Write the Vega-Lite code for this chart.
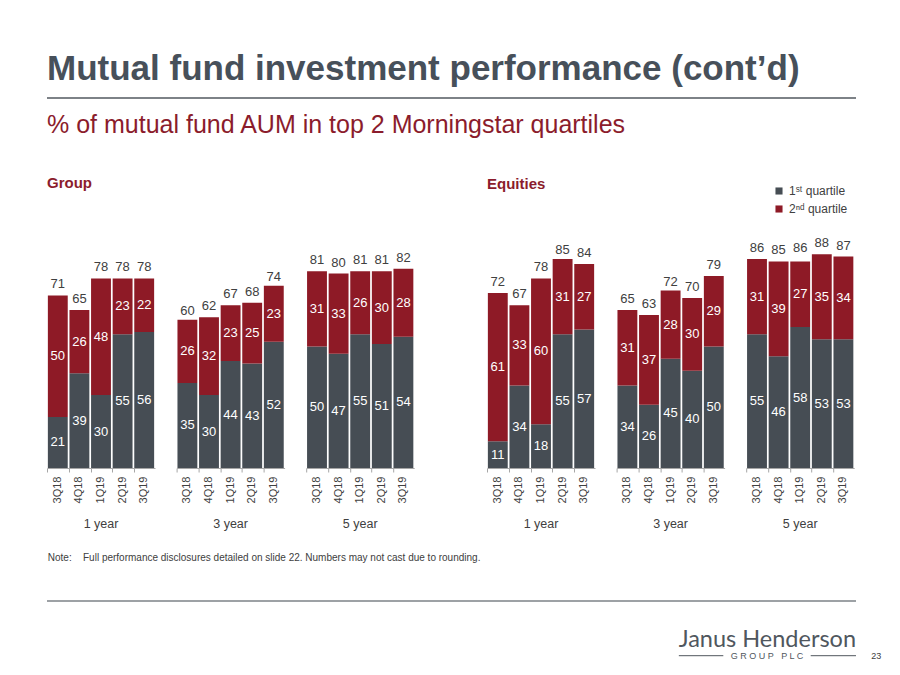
{
  "$schema": "https://vega.github.io/schema/vega-lite/v6.json",
  "background": "white",
  "padding": {"left": 46, "top": 52, "right": 0, "bottom": 0},
  "config": {
    "font": "Liberation Sans",
    "view": {"stroke": null},
    "concat": {"spacing": 0}
  },
  "title": {
    "text": "Mutual fund investment performance (cont’d)",
    "anchor": "start",
    "frame": "group",
    "fontSize": 35,
    "fontWeight": "bold",
    "color": "#47505a",
    "offset": 10
  },
  "datasets": {
    "perf": [
      {"panel": "Group", "period": "1 year", "quarter": "3Q18", "q1": 21, "q2": 50, "total": 71},
      {"panel": "Group", "period": "1 year", "quarter": "4Q18", "q1": 39, "q2": 26, "total": 65},
      {"panel": "Group", "period": "1 year", "quarter": "1Q19", "q1": 30, "q2": 48, "total": 78},
      {"panel": "Group", "period": "1 year", "quarter": "2Q19", "q1": 55, "q2": 23, "total": 78},
      {"panel": "Group", "period": "1 year", "quarter": "3Q19", "q1": 56, "q2": 22, "total": 78},
      {"panel": "Group", "period": "3 year", "quarter": "3Q18", "q1": 35, "q2": 26, "total": 60},
      {"panel": "Group", "period": "3 year", "quarter": "4Q18", "q1": 30, "q2": 32, "total": 62},
      {"panel": "Group", "period": "3 year", "quarter": "1Q19", "q1": 44, "q2": 23, "total": 67},
      {"panel": "Group", "period": "3 year", "quarter": "2Q19", "q1": 43, "q2": 25, "total": 68},
      {"panel": "Group", "period": "3 year", "quarter": "3Q19", "q1": 52, "q2": 23, "total": 74},
      {"panel": "Group", "period": "5 year", "quarter": "3Q18", "q1": 50, "q2": 31, "total": 81},
      {"panel": "Group", "period": "5 year", "quarter": "4Q18", "q1": 47, "q2": 33, "total": 80},
      {"panel": "Group", "period": "5 year", "quarter": "1Q19", "q1": 55, "q2": 26, "total": 81},
      {"panel": "Group", "period": "5 year", "quarter": "2Q19", "q1": 51, "q2": 30, "total": 81},
      {"panel": "Group", "period": "5 year", "quarter": "3Q19", "q1": 54, "q2": 28, "total": 82},
      {"panel": "Equities", "period": "1 year", "quarter": "3Q18", "q1": 11, "q2": 61, "total": 72},
      {"panel": "Equities", "period": "1 year", "quarter": "4Q18", "q1": 34, "q2": 33, "total": 67},
      {"panel": "Equities", "period": "1 year", "quarter": "1Q19", "q1": 18, "q2": 60, "total": 78},
      {"panel": "Equities", "period": "1 year", "quarter": "2Q19", "q1": 55, "q2": 31, "total": 85},
      {"panel": "Equities", "period": "1 year", "quarter": "3Q19", "q1": 57, "q2": 27, "total": 84},
      {"panel": "Equities", "period": "3 year", "quarter": "3Q18", "q1": 34, "q2": 31, "total": 65},
      {"panel": "Equities", "period": "3 year", "quarter": "4Q18", "q1": 26, "q2": 37, "total": 63},
      {"panel": "Equities", "period": "3 year", "quarter": "1Q19", "q1": 45, "q2": 28, "total": 72},
      {"panel": "Equities", "period": "3 year", "quarter": "2Q19", "q1": 40, "q2": 30, "total": 70},
      {"panel": "Equities", "period": "3 year", "quarter": "3Q19", "q1": 50, "q2": 29, "total": 79},
      {"panel": "Equities", "period": "5 year", "quarter": "3Q18", "q1": 55, "q2": 31, "total": 86},
      {"panel": "Equities", "period": "5 year", "quarter": "4Q18", "q1": 46, "q2": 39, "total": 85},
      {"panel": "Equities", "period": "5 year", "quarter": "1Q19", "q1": 58, "q2": 27, "total": 86},
      {"panel": "Equities", "period": "5 year", "quarter": "2Q19", "q1": 53, "q2": 35, "total": 88},
      {"panel": "Equities", "period": "5 year", "quarter": "3Q19", "q1": 53, "q2": 34, "total": 87}
    ]
  },
  "vconcat": [
    {
      "width": 809,
      "height": 15,
      "data": {"values": [{}]},
      "mark": {"type": "rule", "color": "#7d8287", "strokeWidth": 2},
      "encoding": {"y": {"datum": 1, "scale": {"domain": [0, 1]}, "axis": null}}
    },
    {
      "title": {
        "text": "% of mutual fund AUM in top 2 Morningstar quartiles",
        "anchor": "start",
        "frame": "group",
        "fontSize": 25,
        "fontWeight": "normal",
        "color": "#8b1c2c",
        "offset": 38
      },
      "spacing": 71,
      "resolve": {"scale": {"color": "independent"}},
      "hconcat": [
        {
          "title": {"text": "Group", "anchor": "start", "frame": "group", "fontSize": 15, "fontWeight": "bold", "color": "#8b1c2c", "offset": 34},
          "data": {"name": "perf"},
          "transform": [
            {"filter": "datum.panel === 'Group'"},
            {"fold": ["q1", "q2"], "as": ["quartile", "value"]}
          ],
          "facet": {
            "column": {
              "field": "period", "type": "nominal",
              "header": {"title": null, "labelOrient": "bottom", "labelFontSize": 12.5, "labelColor": "#404040", "labelPadding": 15}
            }
          },
          "spacing": 21.6,
          "spec": {
            "width": 108,
            "height": 243,
            "encoding": {
              "x": {
                "field": "quarter", "type": "nominal",
                "sort": ["3Q18", "4Q18", "1Q19", "2Q19", "3Q19"],
                "scale": {"paddingInner": 0.08, "paddingOuter": 0.04},
                "axis": {"title": null, "labelAngle": -90, "labelFontSize": 11, "labelColor": "#404040", "domainColor": "#a6a6a6", "tickColor": "#a6a6a6", "tickSize": 4, "bandPosition": 0, "labelPadding": 4}
              }
            },
            "layer": [
              {
                "mark": {"type": "bar"},
                "encoding": {
                  "y": {"field": "value", "type": "quantitative", "stack": "zero", "scale": {"domain": [0, 100]}, "axis": null},
                  "order": {"field": "quartile", "sort": "ascending"},
                  "color": {"field": "quartile", "type": "nominal", "scale": {"domain": ["q1", "q2"], "range": ["#464d54", "#8e1a26"]}, "legend": null}
                }
              },
              {
                "mark": {"type": "text", "color": "white", "fontSize": 13, "baseline": "middle"},
                "encoding": {
                  "y": {"field": "value", "type": "quantitative", "stack": "zero", "bandPosition": 0.5},
                  "order": {"field": "quartile", "sort": "ascending"},
                  "detail": {"field": "quartile"},
                  "text": {"field": "value", "type": "quantitative"}
                }
              },
              {
                "transform": [{"filter": "datum.quartile === 'q2'"}],
                "mark": {"type": "text", "color": "#404040", "fontSize": 13, "baseline": "alphabetic", "dy": -7},
                "encoding": {
                  "y": {"field": "total", "type": "quantitative"},
                  "text": {"field": "total", "type": "quantitative"}
                }
              }
            ]
          }
        },
        {
          "title": {"text": "Equities", "anchor": "start", "frame": "group", "fontSize": 15, "fontWeight": "bold", "color": "#8b1c2c", "offset": -7},
          "data": {"name": "perf"},
          "transform": [
            {"filter": "datum.panel === 'Equities'"},
            {"fold": ["q1", "q2"], "as": ["quartile", "value"]}
          ],
          "facet": {
            "column": {
              "field": "period", "type": "nominal",
              "header": {"title": null, "labelOrient": "bottom", "labelFontSize": 12.5, "labelColor": "#404040", "labelPadding": 15}
            }
          },
          "spacing": 21.6,
          "spec": {
            "width": 108,
            "height": 243,
            "encoding": {
              "x": {
                "field": "quarter", "type": "nominal",
                "sort": ["3Q18", "4Q18", "1Q19", "2Q19", "3Q19"],
                "scale": {"paddingInner": 0.08, "paddingOuter": 0.04},
                "axis": {"title": null, "labelAngle": -90, "labelFontSize": 11, "labelColor": "#404040", "domainColor": "#a6a6a6", "tickColor": "#a6a6a6", "tickSize": 4, "bandPosition": 0, "labelPadding": 4}
              }
            },
            "layer": [
              {
                "mark": {"type": "bar"},
                "encoding": {
                  "y": {"field": "value", "type": "quantitative", "stack": "zero", "scale": {"domain": [0, 100]}, "axis": null},
                  "order": {"field": "quartile", "sort": "ascending"},
                  "color": {
                    "field": "quartile", "type": "nominal",
                    "scale": {"domain": ["q1", "q2"], "range": ["#464d54", "#8e1a26"]},
                    "legend": {
                      "orient": "none", "legendX": 286, "legendY": -40, "title": null,
                      "symbolType": "square", "symbolSize": 50, "symbolStrokeWidth": 0,
                      "labelFontSize": 12, "labelColor": "#404040", "rowPadding": 6,
                      "labelExpr": "datum.value === 'q1' ? '1ˢᵗ quartile' : '2ⁿᵈ quartile'"
                    }
                  }
                }
              },
              {
                "mark": {"type": "text", "color": "white", "fontSize": 13, "baseline": "middle"},
                "encoding": {
                  "y": {"field": "value", "type": "quantitative", "stack": "zero", "bandPosition": 0.5},
                  "order": {"field": "quartile", "sort": "ascending"},
                  "detail": {"field": "quartile"},
                  "text": {"field": "value", "type": "quantitative"}
                }
              },
              {
                "transform": [{"filter": "datum.quartile === 'q2'"}],
                "mark": {"type": "text", "color": "#404040", "fontSize": 13, "baseline": "alphabetic", "dy": -7},
                "encoding": {
                  "y": {"field": "total", "type": "quantitative"},
                  "text": {"field": "total", "type": "quantitative"}
                }
              }
            ]
          }
        }
      ]
    },
    {
      "width": 809,
      "height": 145,
      "data": {"values": [{}]},
      "layer": [
        {
          "mark": {"type": "text", "text": "Note:", "fontSize": 10, "color": "#404040", "align": "left", "baseline": "middle"},
          "encoding": {
            "x": {"datum": 0.001, "scale": {"domain": [0, 1]}, "axis": null},
            "y": {"datum": 0.186, "scale": {"domain": [0, 1], "reverse": true}, "axis": null}
          }
        },
        {
          "mark": {"type": "text", "text": "Full performance disclosures detailed on slide 22. Numbers may not cast due to rounding.", "fontSize": 10, "color": "#404040", "align": "left", "baseline": "middle"},
          "encoding": {"x": {"datum": 0.0445}, "y": {"datum": 0.186}}
        },
        {
          "mark": {"type": "rule", "color": "#7d8287", "strokeWidth": 1.5},
          "encoding": {"y": {"datum": 0.483}}
        },
        {
          "mark": {"type": "text", "text": "Janus Henderson", "font": "Lato", "fontWeight": 400, "fontSize": 23.5, "color": "#50575e", "align": "right", "baseline": "alphabetic"},
          "encoding": {"x": {"datum": 1}, "y": {"datum": 0.8}}
        },
        {
          "mark": {"type": "text", "text": "G R O U P\u00a0\u00a0\u00a0P L C", "fontSize": 9, "color": "#50575e", "align": "center", "baseline": "middle"},
          "encoding": {"x": {"datum": 0.89}, "y": {"datum": 0.86}}
        },
        {
          "mark": {"type": "rule", "color": "#50575e", "strokeWidth": 1},
          "encoding": {"x": {"datum": 0.781}, "x2": {"datum": 0.836}, "y": {"datum": 0.86}}
        },
        {
          "mark": {"type": "rule", "color": "#50575e", "strokeWidth": 1},
          "encoding": {"x": {"datum": 0.944}, "x2": {"datum": 1}, "y": {"datum": 0.86}}
        },
        {
          "mark": {"type": "text", "text": "23", "fontSize": 9, "color": "#404040", "align": "center", "baseline": "middle"},
          "encoding": {"x": {"datum": 1.025}, "y": {"datum": 0.86}}
        }
      ]
    }
  ]
}
